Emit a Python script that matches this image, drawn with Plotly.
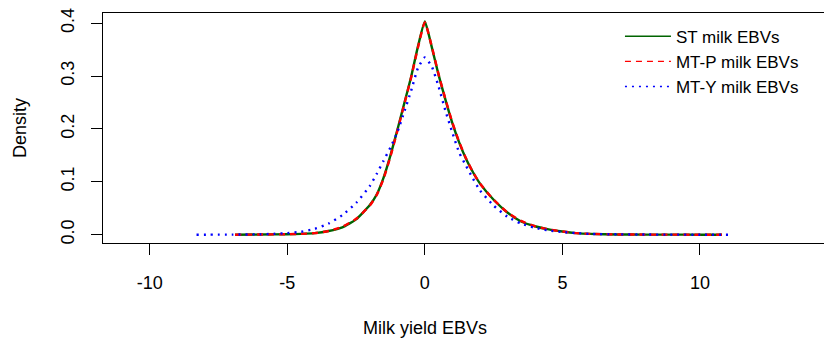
import plotly.graph_objects as go

# Kernel density estimates of milk yield EBVs (values read at fixed grid points)
st_x = [-6.9, -6.0, -5.0, -4.5, -4.0, -3.5, -3.0, -2.5, -2.0, -1.75, -1.5, -1.25,
        -1.0, -0.75, -0.5, -0.25, 0.0, 0.25, 0.5, 0.75, 1.0, 1.25, 1.5, 1.75,
        2.0, 2.5, 3.0, 3.5, 4.0, 4.5, 5.0, 5.5, 6.0, 7.0, 8.0, 9.0, 10.0, 10.8]
st_y = [0.0, 0.0003, 0.0008, 0.0015, 0.003, 0.007, 0.014, 0.029, 0.056, 0.076, 0.108, 0.150,
        0.198, 0.248, 0.298, 0.356, 0.403, 0.355, 0.302, 0.255, 0.211, 0.174, 0.143, 0.118,
        0.097, 0.066, 0.042, 0.025, 0.016, 0.010, 0.006, 0.003, 0.0015, 0.0005, 0.0002, 0.0001, 0.0, 0.0]

mtp_x = st_x
mtp_y = [0.0, 0.0003, 0.0009, 0.0016, 0.003, 0.007, 0.015, 0.030, 0.055, 0.075, 0.106, 0.148,
         0.196, 0.246, 0.297, 0.354, 0.401, 0.356, 0.303, 0.256, 0.212, 0.175, 0.144, 0.118,
         0.097, 0.066, 0.042, 0.026, 0.016, 0.010, 0.006, 0.003, 0.0015, 0.0005, 0.0002, 0.0001, 0.0, 0.0]

mty_x = [-8.3, -7.0, -6.0, -5.5, -5.0, -4.5, -4.0, -3.5, -3.0, -2.5, -2.0, -1.75, -1.5,
         -1.25, -1.0, -0.75, -0.5, -0.25, 0.0, 0.25, 0.5, 0.75, 1.0, 1.25, 1.5, 1.75,
         2.0, 2.5, 3.0, 3.5, 4.0, 4.5, 5.0, 5.5, 6.0, 7.0, 8.0, 9.0, 10.0, 11.15]
mty_y = [0.0, 0.0002, 0.0008, 0.0015, 0.003, 0.0055, 0.011, 0.021, 0.037, 0.060, 0.092, 0.115, 0.140,
         0.165, 0.194, 0.232, 0.272, 0.315, 0.335, 0.318, 0.280, 0.234, 0.193, 0.155, 0.130, 0.106,
         0.084, 0.055, 0.034, 0.021, 0.013, 0.008, 0.005, 0.003, 0.0015, 0.0007, 0.0003, 0.0001, 0.0, 0.0]

series_names = ["ST milk EBVs", "MT-P milk EBVs", "MT-Y milk EBVs"]
series_colors = ["#006400", "#FF0000", "#0000FF"]
series_dash = ["solid", "6px,5px", "2px,5px"]

x_ticks = [-10, -5, 0, 5, 10]
x_tick_text = ["-10", "-5", "0", "5", "10"]
y_ticks = [0.0, 0.1, 0.2, 0.3, 0.4]
y_tick_text = ["0.0", "0.1", "0.2", "0.3", "0.4"]

FONT = "Liberation Sans, Arial, sans-serif"
FS = 18

fig = go.Figure()
curves = [(st_x, st_y), (mtp_x, mtp_y), (mty_x, mty_y)]
for (xs, ys), name, col, dash in zip(curves, series_names, series_colors, series_dash):
    fig.add_trace(go.Scatter(x=xs, y=ys, mode="lines", showlegend=False,
                             line=dict(color=col, width=2.4, dash=dash,
                                       shape="spline", smoothing=0.5)))
# thin legend keys
for name, col, dash in zip(series_names, series_colors, series_dash):
    fig.add_trace(go.Scatter(x=[None], y=[None], mode="lines", name=name,
                             line=dict(color=col, width=1.4, dash=dash)))

fig.update_layout(
    width=824, height=342,
    margin=dict(l=103, r=0, t=13, b=99),
    paper_bgcolor="white", plot_bgcolor="white",
    font=dict(family=FONT, size=FS, color="#000000"),
    showlegend=True,
    legend=dict(x=0.717, y=0.975, xanchor="left", yanchor="top",
                bgcolor="rgba(0,0,0,0)", borderwidth=0, itemwidth=46,
                font=dict(size=17), tracegroupgap=0),
    xaxis=dict(range=[-11.7, 14.51], tickvals=x_ticks, ticktext=x_tick_text,
               showgrid=False, zeroline=False,
               showline=True, mirror=True, linecolor="black", linewidth=1,
               ticks="outside", ticklen=11, tickcolor="black", ticklabelstandoff=12),
    yaxis=dict(range=[-0.0157, 0.4191], tickvals=y_ticks, ticktext=y_tick_text,
               showgrid=False, zeroline=False, tickangle=-90,
               showline=True, linecolor="black", linewidth=1,
               ticks="outside", ticklen=11, tickcolor="black", ticklabelstandoff=10),
    annotations=[
        dict(text="Milk yield EBVs", xref="paper", yref="paper", x=0.4464, y=-0.37,
             xanchor="center", yanchor="middle", showarrow=False, font=dict(size=FS)),
        dict(text="Density", xref="paper", yref="paper", x=-0.115, y=0.5, textangle=-90,
             xanchor="center", yanchor="middle", showarrow=False, font=dict(size=FS)),
    ],
)

fig.write_html("out.html")
